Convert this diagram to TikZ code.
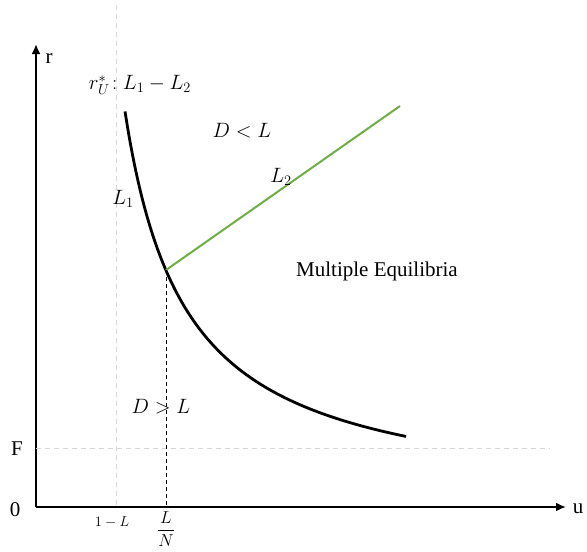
\documentclass[tikz,border=0pt]{standalone}
\usepackage{fontspec}
\setmainfont{Liberation Serif}
\definecolor{lgreen}{RGB}{112,173,71}
\definecolor{guide}{RGB}{215,215,215}
\tikzset{
  axis/.style={line width=2.6pt,-{Latex[length=10pt,width=9pt]}},
  guideline/.style={guide,dashed,line width=0.8pt,dash pattern=on 5pt off 4pt},
  dropline/.style={black,line width=1pt,dash pattern=on 4pt off 3pt},
  lbl/.style={font=\fontsize{21}{24}\selectfont,inner sep=0pt},
  mlbl/.style={font=\fontsize{22}{25}\selectfont,inner sep=0pt},
  tick/.style={font=\fontsize{15}{17}\selectfont,inner sep=0pt}
}
\usetikzlibrary{arrows.meta}
\begin{document}
\begin{tikzpicture}[x=1pt,y=-1pt]
\useasboundingbox (0,0) rectangle (587,552);
% axes
\coordinate (O) at (36,507);
\coordinate (xend) at (566,507);
\coordinate (yend) at (36,44);
\draw[axis] (O) -- (xend);
\draw[axis] (O) -- (yend);
\node[lbl] (rlab) at (49,59) {r};
\node[lbl] (ulab) at (578,509) {u};
\node[lbl] (zero) at (15,510) {0};
\node[lbl] (flab) at (17,449) {F};
% guide lines
\coordinate (gtop) at (116,5);
\coordinate (gbot) at (116,507);
\coordinate (fleft) at (36,448);
\coordinate (fright) at (550,448);
\draw[guideline] (gtop) -- (gbot);
\draw[guideline] (fleft) -- (fright);
% curves
\coordinate (E) at (166,270);
\coordinate (Ebot) at (166,507);
\coordinate (L2end) at (400,106);
\draw[line width=2.8pt,domain=125:406,samples=80,smooth] plot (\x,{507-241.3*(100/(\x-64))});
\draw[lgreen,line width=2pt] (E) -- (L2end);
\draw[dropline] (E) -- (Ebot);
% labels
\node[mlbl] (rstar) at (140,85) {$r_U^*\!: L_1 - L_2$};
\node[mlbl] (dless) at (242,131) {$D < L$};
\node[mlbl] (ltwo) at (281,177) {$L_2$};
\node[mlbl] (lone) at (123,199) {$L_1$};
\node[lbl] (multi) at (377,271) {Multiple Equilibria};
\node[mlbl] (dmore) at (161,407) {$D > L$};
\node[tick] (onel) at (112,522) {$1-L$};
\node[tick,font=\fontsize{17}{19}\selectfont] (ln) at (166,529) {$\displaystyle\frac{L}{N}$};
\end{tikzpicture}
\end{document}
